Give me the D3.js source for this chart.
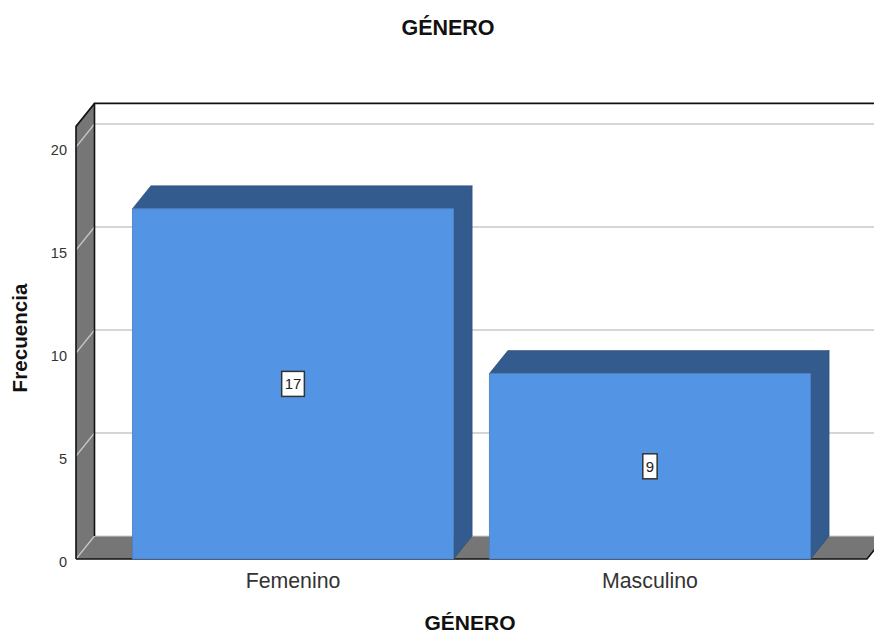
<!DOCTYPE html>
<html>
<head>
<meta charset="utf-8">
<script src="https://cdn.jsdelivr.net/npm/d3@7"></script>
<style>
  html, body { margin: 0; padding: 0; background: #ffffff; }
  svg { display: block; }
</style>
</head>
<body>
<script>
const categories = ["Femenino", "Masculino"];
const counts = [17, 9];
const yTicks = [0, 5, 10, 15, 20];
const chartTitle = "GÉNERO";
const xTitle = "GÉNERO";
const yTitle = "Frecuencia";

const W = 874, H = 635;
const DX = 18.5, DY = -23;
const x0 = 76, x1 = 867, yBase = 559;

const svg = d3.select("body").append("svg").attr("width", W).attr("height", H);

const x = d3.scaleBand().domain(categories).range([x0, x1]).paddingInner(0.1).paddingOuter(0.158);
const y = d3.scaleLinear().domain([0, 21]).range([yBase, yBase - 21 * 20.6]);
const yTop = y(21);

const font = "Arial, 'Liberation Sans', sans-serif";

// back wall (white)
svg.append("rect").attr("x", x0 + DX).attr("y", yTop + DY).attr("width", W).attr("height", yBase - yTop).attr("fill", "#fff");

// back wall grid lines
svg.selectAll(".grid").data(yTicks.filter(d => d > 0)).join("line")
  .attr("x1", x0 + DX).attr("x2", W)
  .attr("y1", d => y(d) + DY).attr("y2", d => y(d) + DY)
  .attr("stroke", "#c8c8c8").attr("stroke-width", 1.6);

// left wall (grey)
svg.append("path")
  .attr("d", `M${x0},${yTop} L${x0 + DX},${yTop + DY} L${x0 + DX},${yBase + DY} L${x0},${yBase} Z`)
  .attr("fill", "#767676");

// floor (grey)
svg.append("path")
  .attr("d", `M${x0},${yBase} L${x0 + DX},${yBase + DY} L${x1 + DX},${yBase + DY} L${x1},${yBase} Z`)
  .attr("fill", "#767676");

// floor back line
svg.append("line").attr("x1", x0 + DX).attr("x2", W).attr("y1", yBase + DY).attr("y2", yBase + DY)
  .attr("stroke", "#d0d0d0").attr("stroke-width", 1.2);

// diagonal grid lines on left wall
svg.selectAll(".diag").data(yTicks).join("line")
  .attr("x1", x0).attr("y1", d => y(d))
  .attr("x2", x0 + DX).attr("y2", d => y(d) + DY)
  .attr("stroke", "#c8c8c8").attr("stroke-width", 1.2);

// frame lines
const frame = svg.append("g").attr("stroke", "#111").attr("stroke-width", 1.6).attr("fill", "none");
frame.append("path").attr("d", `M${x0},${yBase} L${x0},${yTop} L${x0 + DX},${yTop + DY} L${W},${yTop + DY}`);
frame.append("path").attr("d", `M${x0 + DX},${yTop + DY} L${x0 + DX},${yBase + DY}`);
frame.append("path").attr("d", `M${x0},${yBase} L${x1},${yBase} L${x1 + DX},${yBase + DY}`);

// bars
const bw = x.bandwidth();
const bars = svg.selectAll(".bar").data(categories.map((c, i) => ({ c, v: counts[i] }))).join("g");
bars.append("path")
  .attr("d", d => {
    const l = x(d.c), r = l + bw, t = y(d.v);
    return `M${l},${t} L${l + DX},${t + DY} L${r + DX},${t + DY} L${r},${t} Z`;
  })
  .attr("fill", "#345b8d").attr("stroke", "#2c4d78").attr("stroke-width", 0.6);
bars.append("path")
  .attr("d", d => {
    const r = x(d.c) + bw, t = y(d.v);
    return `M${r},${t} L${r + DX},${t + DY} L${r + DX},${yBase + DY} L${r},${yBase} Z`;
  })
  .attr("fill", "#345b8d").attr("stroke", "#2c4d78").attr("stroke-width", 0.6);
bars.append("rect")
  .attr("x", d => x(d.c)).attr("y", d => y(d.v))
  .attr("width", bw).attr("height", d => yBase - y(d.v))
  .attr("fill", "#5394e4").attr("stroke", "#4a7fc2").attr("stroke-width", 0.8);

// value labels
bars.each(function (d) {
  const g = d3.select(this);
  const cx = x(d.c) + bw / 2, cy = y(d.v / 2);
  const t = g.append("text").attr("x", cx).attr("y", cy).attr("text-anchor", "middle")
    .attr("dominant-baseline", "central").attr("font-family", font).attr("font-size", 15)
    .attr("fill", "#222").text(d.v);
  const bb = t.node().getBBox();
  g.insert("rect", "text").attr("x", bb.x - 3).attr("y", cy - 12.5)
    .attr("width", bb.width + 6).attr("height", 25)
    .attr("fill", "#fff").attr("stroke", "#333").attr("stroke-width", 1.5);
});

// y tick labels
svg.selectAll(".ytick").data(yTicks).join("text")
  .attr("x", 67).attr("y", d => y(d) + 3)
  .attr("text-anchor", "end").attr("dominant-baseline", "central")
  .attr("font-family", font).attr("font-size", 14.5).attr("fill", "#333")
  .text(d => d);

// category labels
svg.selectAll(".xlab").data(categories).join("text")
  .attr("x", d => x(d) + bw / 2).attr("y", 588)
  .attr("text-anchor", "middle").attr("font-family", font).attr("font-size", 21.3)
  .attr("fill", "#333").text(d => d);

// titles
svg.append("text").attr("x", 448).attr("y", 35).attr("text-anchor", "middle")
  .attr("font-family", font).attr("font-size", 21.5).attr("font-weight", "bold").attr("fill", "#111").text(chartTitle);
svg.append("text").attr("x", 470).attr("y", 630).attr("text-anchor", "middle")
  .attr("font-family", font).attr("font-size", 21).attr("font-weight", "bold").attr("fill", "#111").text(xTitle);
svg.append("text").attr("transform", "translate(27,338) rotate(-90)").attr("text-anchor", "middle")
  .attr("font-family", font).attr("font-size", 20.6).attr("font-weight", "bold").attr("fill", "#111").text(yTitle);
</script>
</body>
</html>
